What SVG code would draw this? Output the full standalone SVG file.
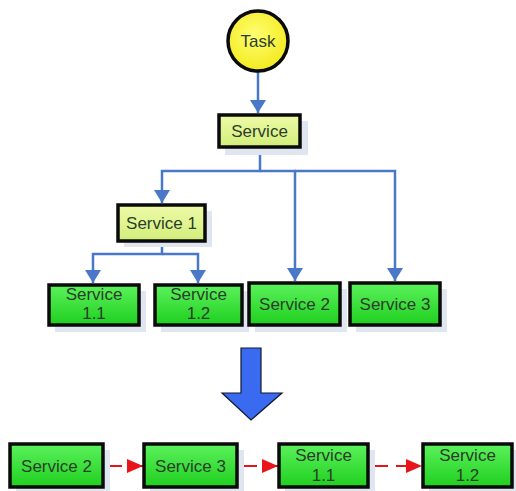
<svg xmlns="http://www.w3.org/2000/svg" width="516" height="491" viewBox="0 0 516 491">
  <defs>
    <linearGradient id="gGreen" x1="0" y1="0" x2="0" y2="1">
      <stop offset="0" stop-color="#5cf25c"/>
      <stop offset="1" stop-color="#1fcf1f"/>
    </linearGradient>
    <linearGradient id="gLime" x1="0" y1="0" x2="0" y2="1">
      <stop offset="0" stop-color="#eefaa8"/>
      <stop offset="1" stop-color="#d2ee7a"/>
    </linearGradient>
    <radialGradient id="gYellow" cx="0.45" cy="0.4" r="0.65">
      <stop offset="0" stop-color="#ffff70"/>
      <stop offset="1" stop-color="#f2e81a"/>
    </radialGradient>
    <marker id="blueHead" viewBox="0 0 13 16" refX="13" refY="8" markerWidth="13" markerHeight="16" markerUnits="userSpaceOnUse" orient="auto">
      <path d="M0,0 L13,8 L0,16 z" fill="#4a78c8"/>
    </marker>
    <marker id="redHead" viewBox="0 0 16 14" refX="16" refY="7" markerWidth="16" markerHeight="14" markerUnits="userSpaceOnUse" orient="auto">
      <path d="M0,0 L16,7 L0,14 z" fill="#e8141a"/>
    </marker>
  </defs>
  <style>
    .shadow { fill: #dfe6f0; }
    .box { stroke: #0a0a0a; stroke-width: 3.5; }
    .green { fill: url(#gGreen); }
    .lime { fill: url(#gLime); }
    .lbl { font-family: "Liberation Sans", Arial, sans-serif; font-size: 17px; fill: #2b3d2b; text-anchor: middle; }
    .tree { fill: none; stroke: #4a78c8; stroke-width: 2.5; }
    .flow { fill: none; stroke: #e8141a; stroke-width: 2; stroke-dasharray: 19 8; }
  </style>
  <rect width="516" height="491" fill="#ffffff"/>

  <!-- connectors -->
  <g id="connectors">
    <path class="tree" d="M258,72 V113" marker-end="url(#blueHead)"/>
    <path class="tree" d="M260,148 V171 H162 V203" marker-end="url(#blueHead)"/>
    <path class="tree" d="M260,171 H295 V281" marker-end="url(#blueHead)"/>
    <path class="tree" d="M295,171 H395 V281" marker-end="url(#blueHead)"/>
    <path class="tree" d="M162,241 V254 H93 V283" marker-end="url(#blueHead)"/>
    <path class="tree" d="M162,254 H198 V283" marker-end="url(#blueHead)"/>
    <path class="flow" d="M103,466 H143" marker-end="url(#redHead)"/>
    <path class="flow" d="M238,466 H278" marker-end="url(#redHead)"/>
    <path class="flow" d="M369,466 H422" stroke-dasharray="20 10" marker-end="url(#redHead)"/>
    <!-- transformation arrow -->
    <path d="M241,348 H261 V393 H282 L251,420 L222,393 H241 Z" fill="#3a6af0" stroke="#101830" stroke-width="1.2" stroke-linejoin="miter"/>
  </g>

  <g id="task">
    <circle cx="258" cy="41" r="30" fill="url(#gYellow)" stroke="#0a0a0a" stroke-width="3.5"/>
    <text class="lbl" x="258" y="47">Task</text>
  </g>

  <g id="service">
    <rect class="shadow" x="225" y="121" width="83" height="34"/>
    <rect class="box lime" x="219" y="115" width="81" height="32"/>
    <text class="lbl" x="259.5" y="137">Service</text>
  </g>

  <g id="service-1">
    <rect class="shadow" x="124" y="211" width="88" height="36"/>
    <rect class="box lime" x="118" y="205" width="87" height="36"/>
    <text class="lbl" x="161.5" y="229">Service 1</text>
  </g>

  <g id="service-1-1">
    <rect class="shadow" x="55" y="291" width="91" height="41"/>
    <rect class="box green" x="49" y="285" width="90" height="40"/>
    <text class="lbl" x="94" y="300">Service</text>
    <text class="lbl" x="94" y="319">1.1</text>
  </g>

  <g id="service-1-2">
    <rect class="shadow" x="161" y="291" width="88" height="41"/>
    <rect class="box green" x="155" y="285" width="87" height="40"/>
    <text class="lbl" x="198.5" y="300">Service</text>
    <text class="lbl" x="198.5" y="319">1.2</text>
  </g>

  <g id="service-2">
    <rect class="shadow" x="255" y="289" width="92" height="43"/>
    <rect class="box green" x="249" y="283" width="91" height="42"/>
    <text class="lbl" x="294.5" y="310">Service 2</text>
  </g>

  <g id="service-3">
    <rect class="shadow" x="356" y="289" width="91" height="43"/>
    <rect class="box green" x="350" y="283" width="90" height="42"/>
    <text class="lbl" x="395" y="310">Service 3</text>
  </g>

  <g id="step-service-2">
    <rect class="shadow" x="16" y="450" width="94" height="41"/>
    <rect class="box green" x="10" y="444" width="93" height="43"/>
    <text class="lbl" x="56.5" y="472">Service 2</text>
  </g>

  <g id="step-service-3">
    <rect class="shadow" x="150" y="450" width="94" height="41"/>
    <rect class="box green" x="144" y="444" width="93" height="43"/>
    <text class="lbl" x="190.5" y="472">Service 3</text>
  </g>

  <g id="step-service-1-1">
    <rect class="shadow" x="285" y="450" width="90" height="41"/>
    <rect class="box green" x="279" y="444" width="89" height="43"/>
    <text class="lbl" x="323.5" y="461">Service</text>
    <text class="lbl" x="323.5" y="481">1.1</text>
  </g>

  <g id="step-service-1-2">
    <rect class="shadow" x="429" y="450" width="87" height="41"/>
    <rect class="box green" x="423" y="444" width="89" height="43"/>
    <text class="lbl" x="467.5" y="461">Service</text>
    <text class="lbl" x="467.5" y="481">1.2</text>
  </g>
</svg>
